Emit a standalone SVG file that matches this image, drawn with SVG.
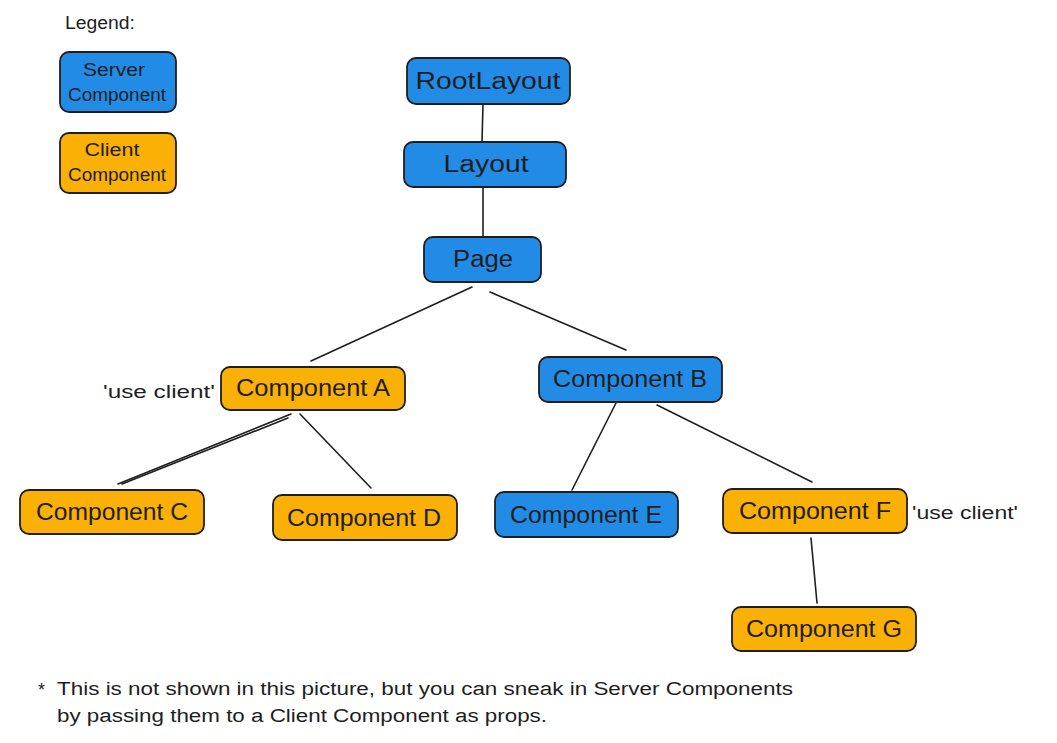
<svg xmlns="http://www.w3.org/2000/svg" width="1057" height="743" viewBox="0 0 1057 743">
<style>
.srv{fill:#228be6;stroke:#1e1e1e;stroke-width:1.8}
.cli{fill:#fab005;stroke:#1e1e1e;stroke-width:1.8}
.lbl{font-family:"Liberation Sans",Arial,sans-serif;font-size:23px;fill:#1e1e1e;text-anchor:middle;dominant-baseline:central}
.lg{font-family:"Liberation Sans",Arial,sans-serif;font-size:18px;fill:#1e1e1e;text-anchor:middle;dominant-baseline:central}
.sm{font-family:"Liberation Sans",Arial,sans-serif;font-size:18px;fill:#1e1e1e}
.ln{stroke:#1e1e1e;stroke-width:1.6;fill:none;stroke-linecap:round}
</style>
<rect width="1057" height="743" fill="#ffffff"/>
<g id="legend">
<text class="sm" x="65" y="29" textLength="70" lengthAdjust="spacingAndGlyphs">Legend:</text>
<g id="legend-server">
<rect class="srv" x="60" y="52" width="116" height="60" rx="9"/>
<text class="lg" x="114" y="70" textLength="62" lengthAdjust="spacingAndGlyphs">Server</text>
<text class="lg" x="117" y="95" textLength="98" lengthAdjust="spacingAndGlyphs">Component</text>
</g>
<g id="legend-client">
<rect class="cli" x="60" y="133" width="116" height="60" rx="9"/>
<text class="lg" x="112" y="150" textLength="55" lengthAdjust="spacingAndGlyphs">Client</text>
<text class="lg" x="117" y="175" textLength="98" lengthAdjust="spacingAndGlyphs">Component</text>
</g>
</g>
<g id="connectors">
<line class="ln" x1="483" y1="104" x2="482" y2="142"/>
<line class="ln" x1="483" y1="188" x2="483" y2="236"/>
<line class="ln" x1="472" y1="287" x2="311" y2="361"/>
<line class="ln" x1="490" y1="292" x2="626" y2="350"/>
<line class="ln" x1="291" y1="414" x2="118" y2="484"/>
<line class="ln" x1="288" y1="418" x2="122" y2="484"/>
<line class="ln" x1="300" y1="414" x2="371" y2="488"/>
<line class="ln" x1="616" y1="403" x2="572" y2="490"/>
<line class="ln" x1="657" y1="405" x2="812" y2="482"/>
<line class="ln" x1="811" y1="538" x2="817" y2="603"/>
</g>
<g id="rootlayout">
<rect class="srv" x="407" y="58" width="163" height="46" rx="9"/>
<text class="lbl" x="488" y="81" textLength="145" lengthAdjust="spacingAndGlyphs">RootLayout</text>
</g>
<g id="layout">
<rect class="srv" x="404" y="142" width="162" height="45" rx="9"/>
<text class="lbl" x="486" y="164" textLength="85" lengthAdjust="spacingAndGlyphs">Layout</text>
</g>
<g id="page">
<rect class="srv" x="424" y="237" width="117" height="45" rx="9"/>
<text class="lbl" x="483" y="259" textLength="60" lengthAdjust="spacingAndGlyphs">Page</text>
</g>
<g id="component-a">
<rect class="cli" x="221" y="367" width="184" height="43" rx="9"/>
<text class="lbl" x="313" y="388" textLength="154" lengthAdjust="spacingAndGlyphs">Component A</text>
<text class="sm" x="103" y="398" textLength="112" lengthAdjust="spacingAndGlyphs">'use client'</text>
</g>
<g id="component-b">
<rect class="srv" x="539" y="357" width="183" height="45" rx="9"/>
<text class="lbl" x="630" y="379" textLength="154" lengthAdjust="spacingAndGlyphs">Component B</text>
</g>
<g id="component-c">
<rect class="cli" x="20" y="490" width="184" height="44" rx="9"/>
<text class="lbl" x="112" y="512" textLength="152" lengthAdjust="spacingAndGlyphs">Component C</text>
</g>
<g id="component-d">
<rect class="cli" x="273" y="495" width="184" height="45" rx="9"/>
<text class="lbl" x="364" y="518" textLength="154" lengthAdjust="spacingAndGlyphs">Component D</text>
</g>
<g id="component-e">
<rect class="srv" x="495" y="492" width="183" height="45" rx="9"/>
<text class="lbl" x="586" y="515" textLength="152" lengthAdjust="spacingAndGlyphs">Component E</text>
</g>
<g id="component-f">
<rect class="cli" x="723" y="489" width="184" height="44" rx="9"/>
<text class="lbl" x="815" y="511" textLength="152" lengthAdjust="spacingAndGlyphs">Component F</text>
<text class="sm" x="912" y="519" textLength="106" lengthAdjust="spacingAndGlyphs">'use client'</text>
</g>
<g id="component-g">
<rect class="cli" x="732" y="607" width="184" height="44" rx="9"/>
<text class="lbl" x="824" y="629" textLength="156" lengthAdjust="spacingAndGlyphs">Component G</text>
</g>
<g id="footnote">
<text class="sm" x="38" y="696">*</text>
<text class="sm" x="57" y="695" textLength="736" lengthAdjust="spacingAndGlyphs">This is not shown in this picture, but you can sneak in Server Components</text>
<text class="sm" x="57" y="722" textLength="490" lengthAdjust="spacingAndGlyphs">by passing them to a Client Component as props.</text>
</g>
</svg>
